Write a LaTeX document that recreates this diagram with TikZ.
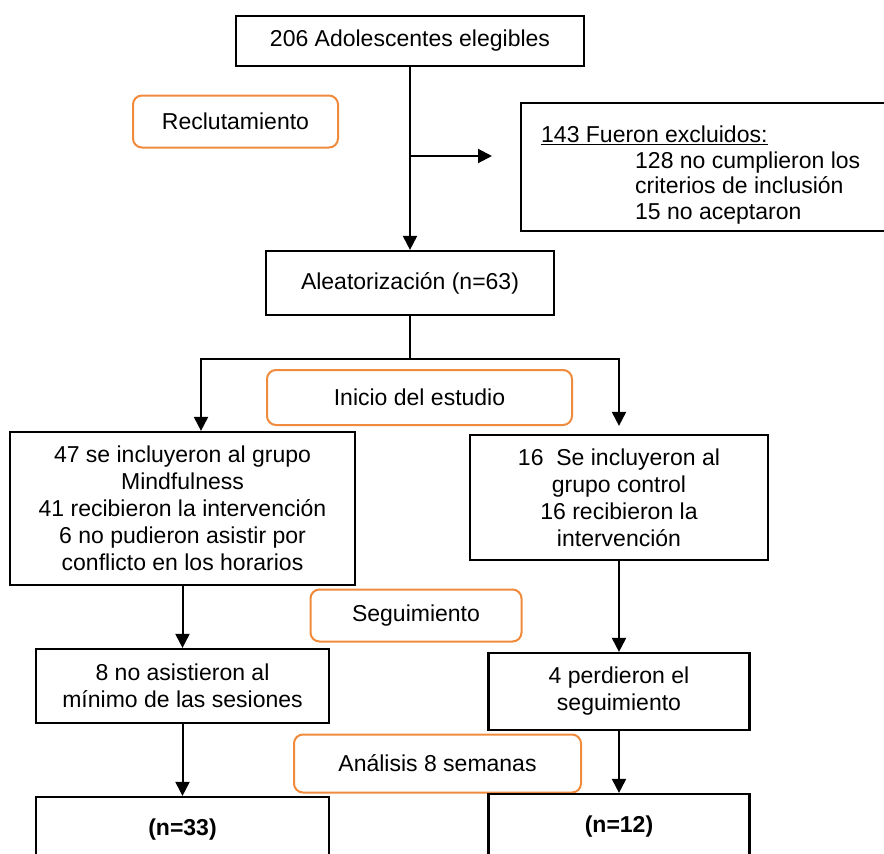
\documentclass[tikz,border=0pt]{standalone}
\usepackage{fontspec}
\setmainfont{Liberation Sans}
\usetikzlibrary{arrows.meta}
\definecolor{orng}{HTML}{F08A3C}
\begin{document}
\begin{tikzpicture}[x=1pt,y=-1pt, font=\fontsize{23}{27}\selectfont,
  box/.style={draw=black, line width=2.2pt, inner sep=0pt, align=center},
  phase/.style={draw=orng, line width=2pt, rounded corners=9pt, inner sep=0pt, align=center},
  conn/.style={line width=2pt},
  arr/.style={conn, -{Triangle[length=14pt,width=14pt]}}]
\useasboundingbox (0,0) rectangle (884,854);
\clip (0,0) rectangle (884,854);

\node[box, minimum width=348pt, minimum height=50pt] (top) at (410,41) {206 Adolescentes elegibles};
\node[phase, minimum width=205pt, minimum height=52pt] (recl) at (235.5,121.5) {Reclutamiento};
\node[box, minimum width=390pt, minimum height=128pt] (excl) at (716,167) {};
\node[anchor=north west, align=left, inner sep=0pt, font=\fontsize{23}{25.5}\selectfont] (extext) at (541,126)
  {\underline{143 Fueron excluidos:}\\
   \hspace*{94pt}128 no cumplieron los\\
   \hspace*{94pt}criterios de inclusión\\
   \hspace*{94pt}15 no aceptaron};
\node[box, minimum width=288pt, minimum height=64pt] (aleat) at (410,283) {Aleatorización (n=63)};
\node[phase, minimum width=305pt, minimum height=55pt] (inicio) at (419.5,397.5) {Inicio del estudio};
\node[box, minimum width=345pt, minimum height=153pt] (left) at (182.5,508.5)
  {47 se incluyeron al grupo\\Mindfulness\\41 recibieron la intervención\\6 no pudieron asistir por\\conflicto en los horarios};
\node[box, minimum width=298pt, minimum height=125pt] (right) at (619,497.5)
  {16\ \ Se incluyeron al\\grupo control\\16 recibieron la\\intervención};
\node[phase, minimum width=211pt, minimum height=52pt] (seg) at (416,615.5) {Seguimiento};
\node[box, minimum width=293pt, minimum height=74pt] (left2) at (182.5,686)
  {8 no asistieron al\\mínimo de las sesiones};
\node[box, minimum width=261pt, minimum height=77pt] (right2) at (619,691.5)
  {4 perdieron el\\seguimiento};
\node[phase, minimum width=287pt, minimum height=58pt] (anal) at (437.5,763.5) {Análisis 8 semanas};
\node[box, minimum width=293pt, minimum height=66pt] (left3) at (182.5,830) {\textbf{(n=33)}};
\node[box, minimum width=261pt, minimum height=66pt] (right3) at (619,827) {\textbf{(n=12)}};

\coordinate (ex) at (492,156);
\coordinate (split) at (410,359);
\coordinate (lsplit) at (201,359);

\draw[arr] (top.south) -- (top.south |- aleat.north);
\draw[arr] (top.south |- ex) -- (ex);
\draw[conn] (aleat.south) -- (split);
\draw[arr] (split) -| (lsplit |- left.north);
\draw[arr, shorten >=8pt] (split) -| (right.north);
\draw[arr] (left.south) -- (left2.north);
\draw[arr] (right.south) -- (right2.north);
\draw[arr] (left2.south) -- (left3.north);
\draw[arr] (right2.south) -- (right3.north);
\end{tikzpicture}
\end{document}
